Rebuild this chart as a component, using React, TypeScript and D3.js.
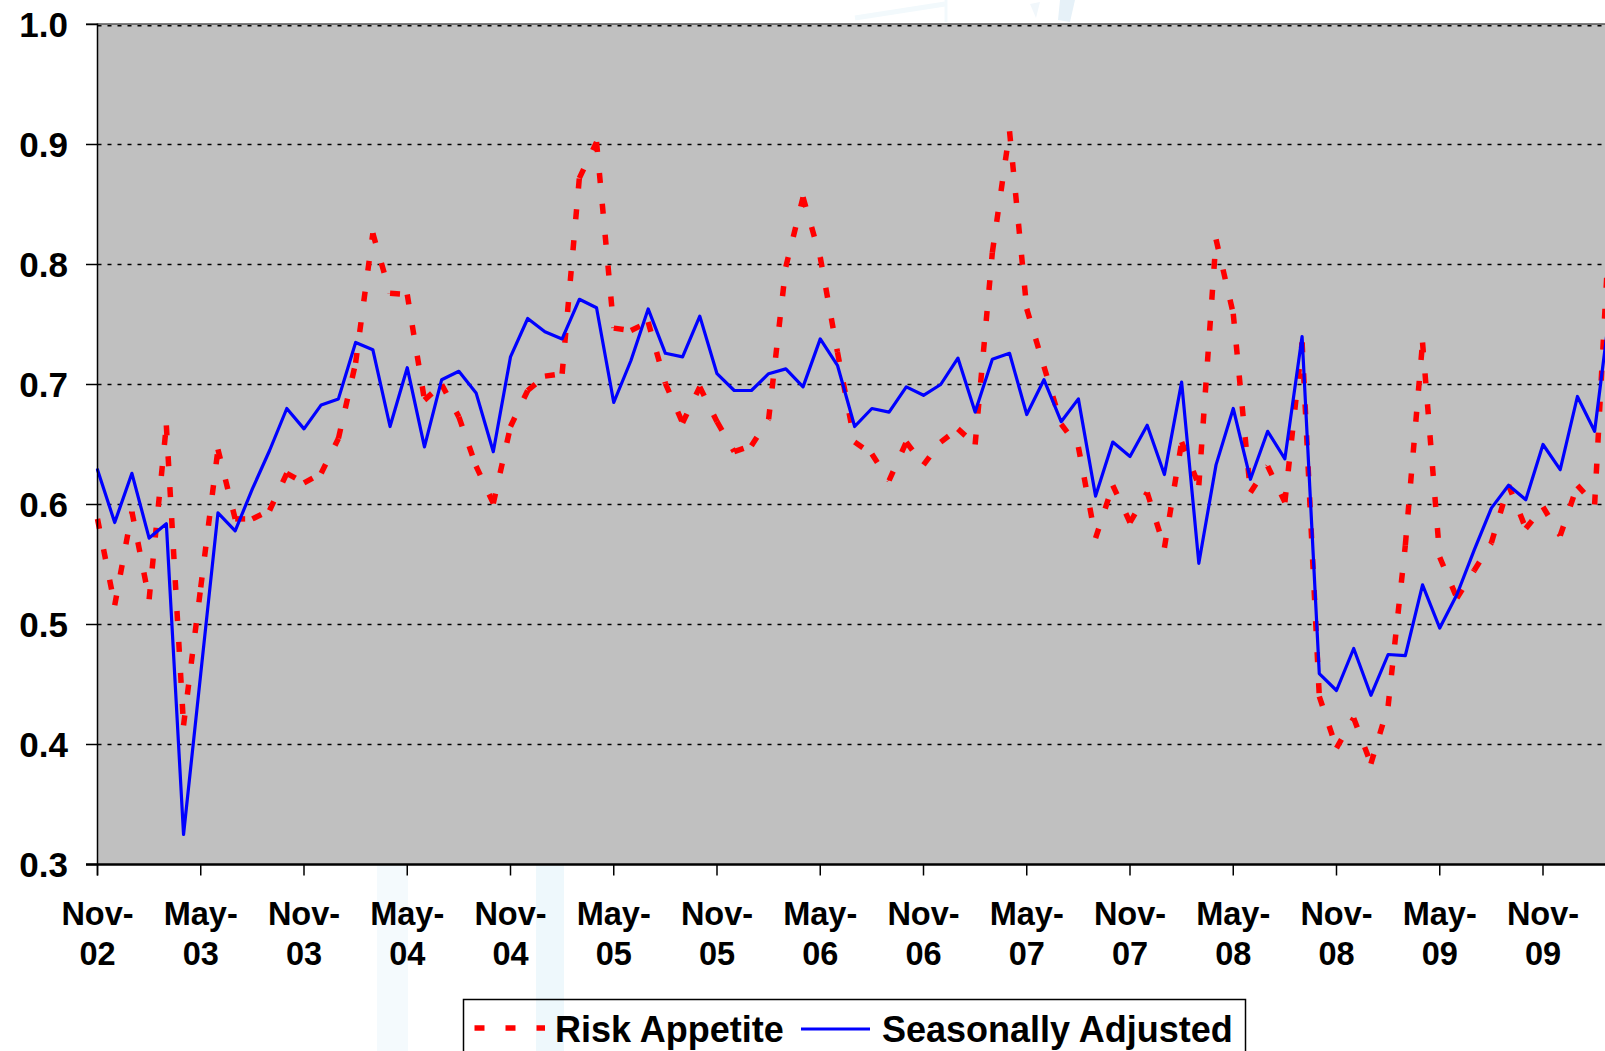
import React from "react";
import * as d3 from "d3";

// Monthly index readings, Nov-02 through Mar-10
const riskAppetite: number[] = [
  0.588, 0.516, 0.594, 0.521, 0.666, 0.416, 0.531, 0.646, 0.588, 0.588,
  0.595, 0.626, 0.618, 0.626, 0.655, 0.718, 0.826, 0.776, 0.775, 0.687,
  0.700, 0.673, 0.632, 0.601, 0.665, 0.695, 0.707, 0.709, 0.872, 0.902,
  0.747, 0.745, 0.752, 0.701, 0.668, 0.698, 0.669, 0.644, 0.649, 0.671,
  0.798, 0.856, 0.806, 0.727, 0.652, 0.642, 0.620, 0.652, 0.633, 0.652,
  0.663, 0.650, 0.810, 0.911, 0.763, 0.715, 0.667, 0.648, 0.572, 0.616,
  0.585, 0.610, 0.564, 0.652, 0.616, 0.821, 0.759, 0.610, 0.632, 0.602,
  0.735, 0.440, 0.397, 0.422, 0.384, 0.432, 0.566, 0.735, 0.556, 0.522,
  0.545, 0.568, 0.616, 0.580, 0.598, 0.574, 0.616, 0.600, 0.870,
];

const seasonallyAdjusted: number[] = [
  0.629, 0.585, 0.626, 0.572, 0.584, 0.325, 0.459, 0.593, 0.578, 0.613,
  0.645, 0.680, 0.663, 0.683, 0.688, 0.735, 0.729, 0.665, 0.714, 0.648,
  0.704, 0.711, 0.693, 0.644, 0.723, 0.755, 0.744, 0.738, 0.771, 0.764,
  0.685, 0.720, 0.763, 0.726, 0.723, 0.757, 0.709, 0.695, 0.695, 0.709,
  0.713, 0.698, 0.738, 0.716, 0.665, 0.680, 0.677, 0.698, 0.691, 0.700,
  0.722, 0.677, 0.721, 0.726, 0.675, 0.704, 0.669, 0.688, 0.607, 0.652,
  0.640, 0.666, 0.625, 0.702, 0.551, 0.633, 0.680, 0.621, 0.661, 0.638,
  0.740, 0.459, 0.445, 0.480, 0.441, 0.475, 0.474, 0.533, 0.497, 0.525,
  0.562, 0.597, 0.616, 0.604, 0.650, 0.629, 0.690, 0.661, 0.775,
];

// Category axis labels, one every six months
const tickLabels: string[][] = [
  ["Nov-", "02"], ["May-", "03"], ["Nov-", "03"], ["May-", "04"], ["Nov-", "04"],
  ["May-", "05"], ["Nov-", "05"], ["May-", "06"], ["Nov-", "06"], ["May-", "07"],
  ["Nov-", "07"], ["May-", "08"], ["Nov-", "08"], ["May-", "09"], ["Nov-", "09"],
];
const tickStep = 6;

const yTicks: number[] = [0.3, 0.4, 0.5, 0.6, 0.7, 0.8, 0.9, 1.0];

const legendItems = ["Risk Appetite", "Seasonally Adjusted"];

const W = 1605;
const H = 1051;
const FONT = "'Liberation Sans', Arial, Helvetica, sans-serif";

export default function App() {
  const left = 97.5;
  const top = 24.5;
  const bottom = 864.5;

  const x = d3.scaleLinear().domain([0, 84]).range([left, 1543]);
  const y = d3.scaleLinear().domain([0.3, 1.0]).range([bottom, top]);
  const xEnd = x(riskAppetite.length + 2);

  const line = d3
    .line<number>()
    .x((_, i) => x(i))
    .y((d) => y(d));

  const blueLine = line(seasonallyAdjusted) || "";

  // dashed series: each monthly segment starts its own dash pattern
  const redSegments = riskAppetite.slice(0, -1).map((v, i) => {
    const a = riskAppetite[i];
    const b = riskAppetite[i + 1];
    return `M${x(i)},${y(a)}L${x(i + 1)},${y(b)}`;
  });

  return (
    <svg
      width={W}
      height={H}
      viewBox={`0 0 ${W} ${H}`}
      style={{ position: "absolute", left: 0, top: 0, display: "block", background: "#ffffff" }}
    >
      {/* faint background artwork */}
      <g>
        <rect x={377} y={bottom} width={31} height={H - bottom} fill="#f4fafd" />
        <rect x={536} y={bottom} width={28} height={H - bottom} fill="#eef8fc" />
        <path d="M855,18 L945,4" stroke="#f2f9fc" strokeWidth={5} fill="none" />
        <path d="M946,0 L946,22" stroke="#f2f9fc" strokeWidth={3} fill="none" />
        <path d="M1060,0 L1075,0 L1070,22 L1058,20 Z" fill="#e6f1f8" />
        <path d="M1030,4 L1040,2 L1036,18 Z" fill="#f1f7fb" />
      </g>

      {/* plot area */}
      <rect x={left} y={top} width={xEnd - left} height={bottom - top} fill="#c0c0c0" />

      {/* horizontal gridlines */}
      {yTicks
        .filter((t) => t > 0.3)
        .map((t) => (
          <line
            key={`g${t}`}
            x1={left}
            x2={xEnd}
            y1={y(t) + (t === 1.0 ? 1.2 : 0)}
            y2={y(t) + (t === 1.0 ? 1.2 : 0)}
            stroke="#000"
            strokeWidth={1.6}
            strokeDasharray="4 6"
          />
        ))}
      <line x1={86} x2={xEnd} y1={top - 0.5} y2={top - 0.5} stroke="#000" strokeWidth={1} />

      {/* series */}
      <g>
        {redSegments.map((d, i) => (
          <path
            key={`r${i}`}
            d={d}
            fill="none"
            stroke="#ff0000"
            strokeWidth={5.5}
            strokeDasharray="10 21"
            strokeLinecap="butt"
          />
        ))}
      </g>
      <path
        d={blueLine}
        fill="none"
        stroke="#0000ff"
        strokeWidth={3.2}
        strokeLinejoin="round"
        strokeLinecap="round"
      />

      {/* y axis */}
      <line x1={left} x2={left} y1={top - 1} y2={bottom + 11} stroke="#000" strokeWidth={1.5} />
      {yTicks.map((t) => (
        <g key={`y${t}`}>
          <line x1={86} x2={left} y1={y(t)} y2={y(t)} stroke="#000" strokeWidth={1.5} />
          <text
            x={68}
            y={y(t) + 12.5}
            textAnchor="end"
            fontFamily={FONT}
            fontWeight="bold"
            fontSize={35}
            fill="#000"
          >
            {d3.format(".1f")(t)}
          </text>
        </g>
      ))}

      {/* x axis */}
      <line x1={86} x2={xEnd} y1={bottom} y2={bottom} stroke="#000" strokeWidth={2.5} />
      {tickLabels.map((lab, k) => {
        const px = x(k * tickStep);
        return (
          <g key={`x${k}`}>
            <line x1={px} x2={px} y1={bottom} y2={bottom + 11} stroke="#000" strokeWidth={1.5} />
            <text
              x={px}
              y={925}
              textAnchor="middle"
              fontFamily={FONT}
              fontWeight="bold"
              fontSize={32.5}
              fill="#000"
            >
              {lab[0]}
            </text>
            <text
              x={px}
              y={965}
              textAnchor="middle"
              fontFamily={FONT}
              fontWeight="bold"
              fontSize={32.5}
              fill="#000"
            >
              {lab[1]}
            </text>
          </g>
        );
      })}

      {/* legend */}
      <g>
        <rect x={463.5} y={999.5} width={782} height={80} fill="none" stroke="#000" strokeWidth={1.5} />
        <line
          x1={474.5}
          x2={545}
          y1={1028}
          y2={1028}
          stroke="#ff0000"
          strokeWidth={5.5}
          strokeDasharray="10 21"
        />
        <text x={555} y={1042} fontFamily={FONT} fontWeight="bold" fontSize={36} fill="#000">
          {legendItems[0]}
        </text>
        <line x1={801} x2={870} y1={1029} y2={1029} stroke="#0000ff" strokeWidth={3.2} />
        <text x={882} y={1042} fontFamily={FONT} fontWeight="bold" fontSize={36} fill="#000">
          {legendItems[1]}
        </text>
      </g>
    </svg>
  );
}
